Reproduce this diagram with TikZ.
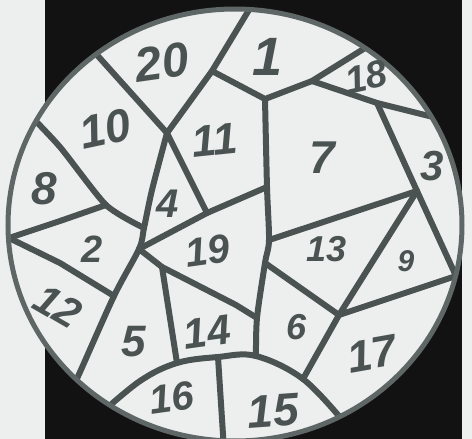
\documentclass[tikz,border=0pt]{standalone}
\usepackage{fontspec}
\setmainfont{Liberation Sans}
\definecolor{bgc}{HTML}{ECEFEE}
\definecolor{ink}{HTML}{4B5252}
\definecolor{rim}{HTML}{5F6666}
\definecolor{blk}{HTML}{121212}
\begin{document}
\begin{tikzpicture}[x=1pt,y=-1pt,
  seg/.style={draw=ink, line width=6pt, line cap=round, line join=round},
  rimline/.style={draw=rim, line width=5pt},
  num/.style={text=ink, font=\fontsize{#1}{#1}\selectfont\bfseries\itshape, inner sep=0pt},
  num/.default=40]
\useasboundingbox (0,0) rectangle (472,439);
\fill[bgc] (0,0) rectangle (472,439);
\fill[blk] (45,0) rectangle (462,439);
\fill[bgc] (235,225) ellipse [x radius=227, y radius=216];
% coordinates
\coordinate (c20) at (80,36);
\coordinate (V1) at (167,133);
\coordinate (P20) at (212,71);
\coordinate (ctop) at (258,-5);
\coordinate (V3) at (265,99);
\coordinate (P18) at (312,81);
\coordinate (c18) at (386,35);
\coordinate (Q) at (377,103);
\coordinate (c3) at (477,128);
\coordinate (V4) at (417,191);
\coordinate (W) at (456,276);
\coordinate (R) at (267,187);
\coordinate (S) at (269,240);
\coordinate (T) at (265,263);
\coordinate (M) at (257,318);
\coordinate (U) at (256,356);
\coordinate (V5) at (339,315);
\coordinate (X) at (303,379);
\coordinate (cl) at (98,416);
\coordinate (Y) at (177,363);
\coordinate (Z) at (218,357);
\coordinate (cr) at (344,422);
\coordinate (cb) at (224,450);
\coordinate (J) at (144,228);
\coordinate (V2) at (139,249);
\coordinate (K) at (114,296);
\coordinate (cK) at (71,391);
\coordinate (c8) at (25,110);
\coordinate (L) at (106,205);
\coordinate (cL) at (9,238);
\coordinate (G) at (207,213);
\coordinate (H) at (162,267);
\begin{scope}
\clip (235,225) ellipse [x radius=227, y radius=216];
\draw[seg] (c20) -- (V1);
\draw[seg] (V1) -- (P20) -- (ctop);
\draw[seg] (P20) -- (V3) -- (P18) -- (c18);
\draw[seg] (P18) -- (Q) -- (c3);
\draw[seg] (Q) -- (V4) -- (W);
\draw[seg] (V4) -- (V5) -- (W);
\draw[seg] (V5) -- (X);
\draw[seg] (T) -- (V5);
\draw[seg] (S) -- (V4);
\draw[seg] plot[smooth, tension=0.5] coordinates {(V3) (R) (S) (T) (M) (U)};
\draw[seg] plot[smooth, tension=0.6] coordinates {(cl) (140,381) (Y) (Z) (U) (X) (cr)};
\draw[seg] (Z) -- (cb);
\draw[seg] plot[smooth, tension=0.5] coordinates {(V1) (152,190) (J) (V2) (K) (80,372) (cK)};
\draw[seg] plot[smooth, tension=0.4] coordinates {(c8) (60,147) (L) (J)};
\draw[seg] (cL) -- (60,221) -- (L);
\draw[seg] (cL) -- (60,263) -- (K);
\draw[seg] (V1) -- (G);
\draw[seg] (V2) -- (G) -- (R);
\draw[seg] (V2) -- (H) -- (236,305) -- (M);
\draw[seg] (H) -- (Y);
\end{scope}
\draw[rimline] (235,225) ellipse [x radius=227, y radius=216];
% labels
\node[num=48, rotate=8] (n20) at (162,62) {20};
\node[num=54] (n1) at (268,57) {1};
\node[num=38, rotate=12] (n18) at (366,77) {18};
\node[num=46, rotate=12] (n10) at (105,129) {10};
\node[num=44, rotate=6] (n11) at (215,140) {11};
\node[num=46] (n7) at (322,158) {7};
\node[num=42] (n3) at (432,166) {3};
\node[num=46] (n8) at (44,189) {8};
\node[num=40] (n4) at (168,204) {4};
\node[num=38] (n2) at (92,249) {2};
\node[num=40, rotate=8] (n19) at (208,251) {19};
\node[num=36] (n13) at (327,249) {13};
\node[num=30] (n9) at (406,261) {9};
\node[num=42, rotate=-30] (n12) at (58,306) {12};
\node[num=44] (n5) at (134,342) {5};
\node[num=42, rotate=8] (n14) at (207,332) {14};
\node[num=36] (n6) at (297,327) {6};
\node[num=44, rotate=10] (n17) at (372,354) {17};
\node[num=40, rotate=8] (n16) at (172,398) {16};
\node[num=46, rotate=4] (n15) at (273,411) {15};
\end{tikzpicture}
\end{document}
